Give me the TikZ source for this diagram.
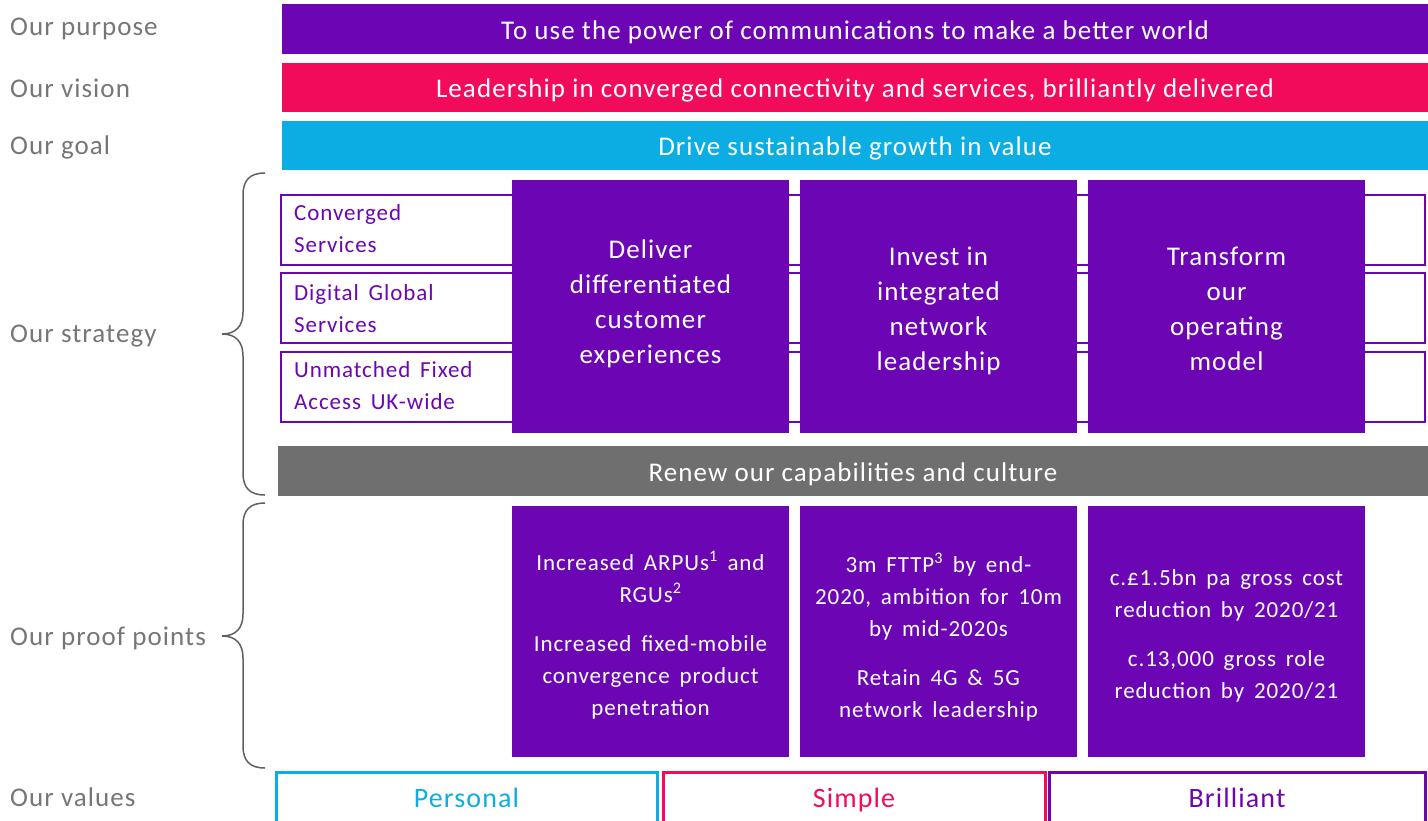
\documentclass[tikz,border=0pt]{standalone}
\usepackage{fontspec}
\setmainfont{Carlito}[LetterSpace=4]
\newfontfamily\wsfont{Carlito}[LetterSpace=4,WordSpace=1.6]
\definecolor{btpurple}{HTML}{6C06B4}
\definecolor{btpink}{HTML}{F20B5B}
\definecolor{btcyan}{HTML}{0BADE3}
\definecolor{btgray}{HTML}{6F6F6F}
\definecolor{lblgray}{HTML}{767676}
\definecolor{bracegray}{HTML}{606060}
\begin{document}
\begin{tikzpicture}[x=1pt,y=-1pt,
  bar/.style={rectangle,inner sep=0pt,text=white,text height=24pt,text depth=4pt,font=\fontsize{27}{32}\selectfont},
  lbl/.style={anchor=west,inner sep=0pt,text=lblgray,font=\fontsize{27}{30}\selectfont},
  rowbox/.style={rectangle,draw=btpurple,line width=2pt,minimum width=1144pt,minimum height=70pt,inner sep=0pt},
  rowlbl/.style={anchor=west,inner sep=0pt,align=left,text=btpurple,font=\wsfont\fontsize{23}{32}\selectfont},
  stratbox/.style={rectangle,fill=btpurple,minimum width=277pt,minimum height=253pt,inner sep=0pt},
  strattext/.style={inner sep=0pt,text=white,align=center,font=\fontsize{27}{35}\selectfont},
  proofbox/.style={rectangle,fill=btpurple,minimum width=277pt,minimum height=251pt,inner sep=0pt},
  prooftext/.style={inner sep=0pt,text=white,align=center,font=\wsfont\fontsize{23}{32}\selectfont},
  valbox/.style={rectangle,draw=#1,line width=3pt,minimum height=50pt,inner sep=0pt,text=#1,text height=24pt,text depth=4pt,font=\fontsize{28}{32}\selectfont},
  bracel/.style={draw=bracegray,line width=1.5pt}
]
\useasboundingbox (0,0) rectangle (1428,820);

% left labels
\node[lbl] (lpurpose) at (10,29) {Our purpose};
\node[lbl] (lvision) at (10,88) {Our vision};
\node[lbl] (lgoal) at (10,147) {Our goal};
\node[lbl] (lstrategy) at (10,336) {Our strategy};
\node[lbl] (lproof) at (10,638) {Our proof points};
\node[lbl] (lvalues) at (10,797) {Our values};

% top bars
\node[bar,fill=btpurple,minimum width=1146pt,minimum height=50pt] (purpose) at (855,29) {To use the power of communications to make a better world};
\node[bar,fill=btpink,minimum width=1146pt,minimum height=49pt] (vision) at (855,87.5) {Leadership in converged connectivity and services, brilliantly delivered};
\node[bar,fill=btcyan,minimum width=1146pt,minimum height=49pt] (goal) at (855,145.5) {Drive sustainable growth in value};

% braces
\draw[bracel] (265,173) .. controls (250,173) and (243,180) .. (243,195) -- (243,312)
  .. controls (243,326) and (236,334) .. (222,334)
  .. controls (236,334) and (243,342) .. (243,356) -- (243,473)
  .. controls (243,488) and (250,495) .. (265,495);
\draw[bracel] (265,503) .. controls (250,503) and (243,510) .. (243,525) -- (243,614)
  .. controls (243,628) and (236,636) .. (222,636)
  .. controls (236,636) and (243,644) .. (243,658) -- (243,746)
  .. controls (243,761) and (250,768) .. (265,768);

% strategy rows
\node[rowbox] (row1) at (853,230) {};
\node[rowbox] (row2) at (853,308) {};
\node[rowbox] (row3) at (853,387) {};
\node[rowlbl] (row1l) at (294,229) {Converged\\Services};
\node[rowlbl] (row2l) at (294,309) {Digital Global\\Services};
\node[rowlbl] (row3l) at (294,386) {Unmatched Fixed\\Access UK-wide};

% strategy boxes
\node[stratbox] (s1) at (650.5,306.5) {};
\node[stratbox] (s2) at (938.5,306.5) {};
\node[stratbox] (s3) at (1226.5,306.5) {};
\node[strattext] (s1t) at (650.5,303.5) {Deliver\\differentiated\\customer\\experiences};
\node[strattext] (s2t) at (938.5,310.5) {Invest in\\integrated\\network\\leadership};
\node[strattext] (s3t) at (1226.5,308.5) {Transform\\our\\operating\\model};

% renew bar
\node[bar,fill=btgray,minimum width=1150pt,minimum height=50pt] (renew) at (853,471) {Renew our capabilities and culture};

% proof boxes
\node[proofbox] (p1) at (650.5,631.5) {};
\node[proofbox] (p2) at (938.5,631.5) {};
\node[proofbox] (p3) at (1226.5,631.5) {};
\node[prooftext] (p1t) at (650.5,635.5) {Increased ARPUs\textsuperscript{1} and\\RGUs\textsuperscript{2}\\[17pt]Increased fixed-mobile\\convergence product\\penetration};
\node[prooftext] (p2t) at (938.5,637.5) {3m FTTP\textsuperscript{3} by end-\\2020, ambition for 10m\\by mid-2020s\\[17pt]Retain 4G \& 5G\\network leadership};
\node[prooftext] (p3t) at (1226.5,635.5) {c.£1.5bn pa gross cost\\reduction by 2020/21\\[17pt]c.13,000 gross role\\reduction by 2020/21};

% values
\node[valbox=btcyan,minimum width=381pt] (personal) at (466.5,797) {Personal};
\node[valbox=btpink,minimum width=382pt] (simple) at (854,797) {Simple};
\node[valbox=btpurple,minimum width=376pt] (brilliant) at (1237,797) {Brilliant};
\end{tikzpicture}
\end{document}
